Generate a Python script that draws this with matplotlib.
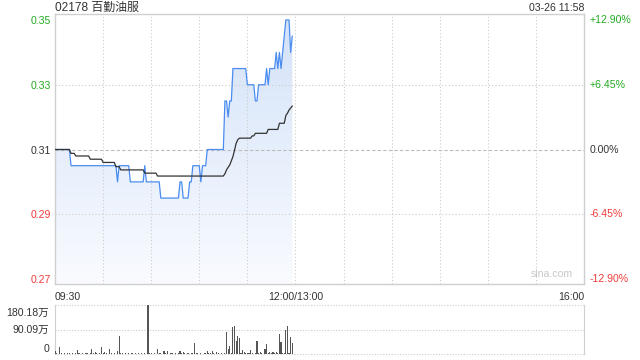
import matplotlib
matplotlib.use('Agg')
import matplotlib.pyplot as plt
import matplotlib.transforms as mtransforms
from matplotlib.patches import Polygon
from matplotlib.colors import LinearSegmentedColormap
import numpy as np

plt.rcParams['font.family'] = ['Liberation Sans', 'Noto Sans CJK SC', 'DejaVu Sans']

# stock info
title = '02178 百勤油服'
stamp = '03-26 11:58'
prev_close = 0.31

# minute prices from 09:30 (one value per minute, 09:30..11:58)
price = ([0.31] * 10 + [0.305] * 29 + [0.30] + [0.305] * 7 + [0.30] * 9 + [0.305]
         + [0.30] * 9 + [0.295] * 12 + [0.30] * 2 + [0.295] * 4 + [0.30] * 2
         + [0.305] * 5 + [0.30] + [0.305] * 3 + [0.31] * 11
         + [0.325, 0.325, 0.32, 0.325, 0.325] + [0.335] * 9 + [0.33] * 5
         + [0.325] * 2 + [0.33] * 5 + [0.335, 0.33] + [0.335] * 4
         + [0.34, 0.335, 0.34, 0.335, 0.34, 0.345, 0.35, 0.35, 0.35, 0.34, 0.345])

# average price line
avg_price = ([0.31] * 10 + [0.3088] * 3 + [0.308] * 9 + [0.307] * 8 + [0.306] * 8
             + [0.3047] * 3 + [0.3037] * 15 + [0.3027] * 8 + [0.3018] * 42
             + [0.3025, 0.3037, 0.3045, 0.3052, 0.3065, 0.3078, 0.3098, 0.3119, 0.313]
             + [0.3135] * 8 + [0.3142] * 2 + [0.315] * 8 + [0.3162] * 7 + [0.3181] * 4
             + [0.3205, 0.3212, 0.3222, 0.3228, 0.3234])

# volume per minute, 万
volume = [11, 2, 1, 27, 2, 1, 2, 1, 3, 2, 1, 2, 1, 3, 15, 2, 1, 2, 1, 2,
          3, 1, 2, 18, 3, 8, 2, 1, 3, 27, 2, 6, 2, 1, 18, 3, 1, 2, 1, 11,
          67, 4, 2, 1, 2, 1, 3, 1, 2, 1, 2, 1, 3, 1, 2, 1, 2, 1, 180.18, 3,
          2, 1, 2, 1, 18, 3, 2, 1, 12, 2, 11, 1, 2, 5, 1, 2, 1, 3, 12, 2,
          6, 2, 1, 2, 1, 3, 2, 39, 4, 2, 1, 2, 1, 3, 2, 12, 2, 3, 11, 2,
          1, 6, 2, 1, 2, 1, 3, 82, 18, 31, 5, 100, 104, 49, 67, 60, 3, 15, 8, 2,
          3, 2, 15, 2, 1, 3, 49, 5, 6, 2, 1, 18, 37, 3, 6, 2, 8, 3, 8, 2,
          72, 45, 3, 2, 88, 104, 5, 61, 39]

minutes = np.arange(len(price))

price_ticks = [0.27, 0.29, 0.31, 0.33, 0.35]
pct_labels = ['-12.90%', '-6.45%', '0.00%', '+6.45%', '+12.90%']
vol_ticks = [0, 90.09, 180.18]
vol_labels = ['0', '90.09万', '180.18万']
time_pos = [0, 150, 330]
time_labels = ['09:30', '12:00/13:00', '16:00']

green = '#22aa22'
red = '#f03c3c'
grid_c = '#cccccc'
border_c = '#cfcfcf'
fs = 7.6

fig = plt.figure(figsize=(6.4, 3.6), dpi=100)
ax = fig.add_axes([55 / 640, 1 - 284 / 360, 529 / 640, 270 / 360])
axv = fig.add_axes([55 / 640, 1 - 354 / 360, 529 / 640, 49 / 360])

ymin, ymax = 0.26846, 0.35185
ax.set_xlim(0, 330)
ax.set_ylim(ymin, ymax)

# gradient fill under the price line
cmap = LinearSegmentedColormap.from_list('fill', ['#f9fbff', '#d3e2f8'])
grad = np.linspace(0, 1, 256).reshape(-1, 1)
img = ax.imshow(grad, extent=[0, 330, ymin, ymax], origin='lower', aspect='auto',
                cmap=cmap, zorder=1)
verts = [(minutes[0], ymin)] + list(zip(minutes, price)) + [(minutes[-1], ymin)]
poly = Polygon(verts, closed=True, facecolor='none', edgecolor='none')
ax.add_patch(poly)
img.set_clip_path(poly)

# grid
for m in range(30, 330, 30):
    ax.axvline(m, color=grid_c, lw=0.8, ls=(0, (1, 2)), zorder=2)
for p in [0.29, 0.33]:
    ax.axhline(p, color=grid_c, lw=0.8, ls=(0, (1, 2)), zorder=2)
ax.axhline(prev_close, color='#bbbbbb', lw=0.8, ls=(0, (3, 2)), zorder=2)

ax.plot(minutes, price, color='#4a8cf0', lw=0.9, zorder=4)
ax.plot(minutes, avg_price, color='#333333', lw=0.9, zorder=5)

for s in ax.spines.values():
    s.set_color(border_c)
    s.set_linewidth(1)
ax.tick_params(length=0, labelsize=fs, pad=3)
ax.set_yticks(price_ticks)
ax.set_yticklabels(['%.2f' % p for p in price_ticks])
for lab, p in zip(ax.get_yticklabels(), price_ticks):
    lab.set_color(green if p > prev_close else (red if p < prev_close else '#333333'))
ax.set_xticks([])

trans = mtransforms.blended_transform_factory(ax.transAxes, ax.transData)
for p, t in zip(price_ticks, pct_labels):
    c = green if p > prev_close else (red if p < prev_close else '#333333')
    ax.text(1.011, p, t, transform=trans, color=c, fontsize=fs, va='center', ha='left')

for m, t in zip(time_pos, time_labels):
    ha = 'left' if m == 0 else ('right' if m == 330 else 'center')
    ax.text(m, -0.03, t, transform=mtransforms.blended_transform_factory(ax.transData, ax.transAxes),
            ha=ha, va='top', fontsize=fs, color='#333333')

ax.text(0.979, 0.02, 'sina.com', transform=ax.transAxes, ha='right', va='bottom',
        fontsize=fs, color='#c8c8c8')

fig.text(55 / 640, 1 - 8 / 360, title, ha='left', va='center', fontsize=fs + 1.0, color='#333333')
fig.text(584 / 640, 1 - 8 / 360, stamp, ha='right', va='center', fontsize=fs, color='#333333')

# volume panel
axv.bar(minutes, volume, width=0.7, color='#555555', zorder=3)
axv.set_xlim(0, 330)
axv.set_ylim(0, 180.18)
for v in vol_ticks:
    axv.axhline(v, color=grid_c, lw=0.8, ls=(0, (1, 1.5)), zorder=1, clip_on=False)
for k in ['top', 'bottom']:
    axv.spines[k].set_visible(False)
for k in ['left', 'right']:
    axv.spines[k].set_color(border_c)
axv.set_xticks([])
axv.set_yticks([])
vtrans = mtransforms.blended_transform_factory(axv.transAxes, axv.transData)
for v, t in zip(vol_ticks, vol_labels):
    dy = -8 if v == vol_ticks[-1] else (5 if v == 0 else 0)
    tr = mtransforms.offset_copy(vtrans, fig=fig, y=dy, units='dots')
    axv.text(-0.011, v, t, transform=tr, ha='right', va='center', fontsize=fs, color='#333333')

fig.savefig('out.png', dpi=100)
